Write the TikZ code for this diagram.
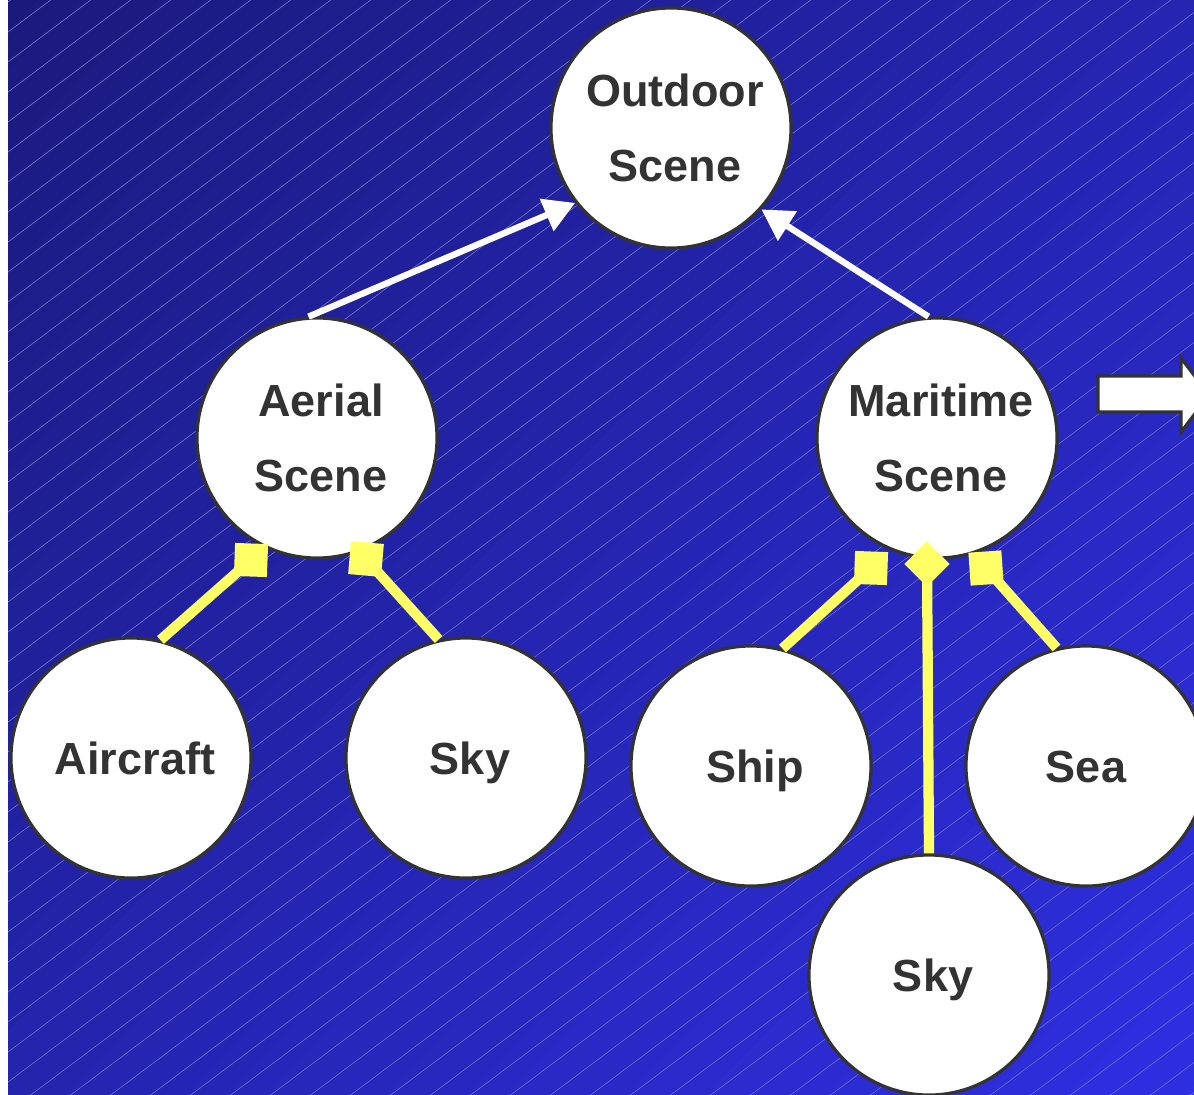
\documentclass[tikz,border=0pt]{standalone}
\usepackage{fontspec}
\setmainfont{Liberation Sans}
\usetikzlibrary{arrows.meta}
\definecolor{bgtop}{RGB}{26,26,124}
\definecolor{bgbot}{RGB}{47,47,228}
\definecolor{hatch}{RGB}{110,110,200}
\definecolor{ink}{RGB}{51,51,51}
\definecolor{link}{RGB}{255,255,102}
% labels sit a little right of the circle centres
\newcommand{\nudge}{\hspace*{5.7pt}}

\begin{document}
\begin{tikzpicture}[x=0.025cm,y=-0.025cm,
  concept/.style={circle,draw=ink,line width=2.3pt,fill=white,minimum size=6cm,
    inner sep=0pt,align=center,text=ink,font=\fontsize{32}{53}\selectfont\bfseries},
  oneline/.style={text height=23pt,text depth=0pt},
  parentlink/.style={draw=white,line width=4.5pt,-{Triangle[length=22pt,width=24pt]}},
  partlink/.style={draw=link,line width=7.3pt},
  partend/.style={rectangle,fill=link,minimum size=0.825cm,inner sep=0pt},
  hatchline/.style={draw=hatch,line width=0.45pt}]

% canvas: diagonal blue gradient (dark upper left, bright lower right),
% built from thin bands along x+y = const
\useasboundingbox (0,0) rectangle (1194,1094);
\clip (0,0) rectangle (1194,1094);
\fill[white] (0,0) rectangle (1194,1094);
\begin{scope}
  \clip (8,0) rectangle (1194,1094);
  \foreach \i in {0,...,57} {
    \pgfmathsetmacro\p{100*(\i+0.5)/58}
    \fill[bgbot!\p!bgtop] ({40*\i-1},0) -- ({40*\i+41},0)
      -- ({40*\i+41-2400},2400) -- ({40*\i-1-2400},2400) -- cycle;
  }
  \foreach \k in {0,...,66} {
    \draw[hatchline] (0,{8+30*\k}) -- ++(2000,-1500);
  }
\end{scope}

% concepts
\node[concept] (outdoor)  at (671,128) {\nudge Outdoor\\\nudge Scene};
\node[concept] (aerial)   at (317,438) {\nudge Aerial\\\nudge Scene};
\node[concept] (maritime) at (937,438) {\nudge Maritime\\\nudge Scene};
\node[concept,oneline] (aircraft) at (131,758) {\nudge Aircraft};
\node[concept,oneline] (skyA)     at (466,758) {\nudge Sky};
\node[concept,oneline] (ship)     at (751,766) {\nudge Ship};
\node[concept,oneline] (sea)      at (1086,766) {Sea};
\node[concept,oneline] (skyM)     at (929,975) {\nudge Sky};

% generalisation links
\draw[parentlink] (aerial.94) -- (outdoor.218);
\draw[parentlink] (maritime.94) -- (outdoor.318);

% part-of links, each ending in a square marker
\coordinate (pA) at (251,560);
\coordinate (pB) at (366,559);
\coordinate (pC) at (871,568);
\coordinate (pD) at (927,564);
\coordinate (pE) at (986,568);

\draw[partlink] (aircraft.76) -- (pA);
\draw[partlink] (skyA.103) -- (pB);
\draw[partlink] (ship.75) -- (pC);
\draw[partlink] (skyM.90) -- (pD);
\draw[partlink] (sea.104) -- (pE);

\node[partend,rotate=-2] (endA) at (pA) {};
\node[partend,rotate=-5] (endB) at (pB) {};
\node[partend,rotate=-2] (endC) at (pC) {};
\node[partend,rotate=45,minimum size=0.8cm] (endD) at (pD) {};
\node[partend,rotate=4]  (endE) at (pE) {};

% block arrow on the right
\draw[draw=ink,line width=2.2pt,fill=white,line join=miter]
  (1098,376) -- (1181,376) -- (1181,358) -- (1209,395) -- (1181,432)
  -- (1181,412) -- (1098,412) -- cycle;
\end{tikzpicture}
\end{document}
